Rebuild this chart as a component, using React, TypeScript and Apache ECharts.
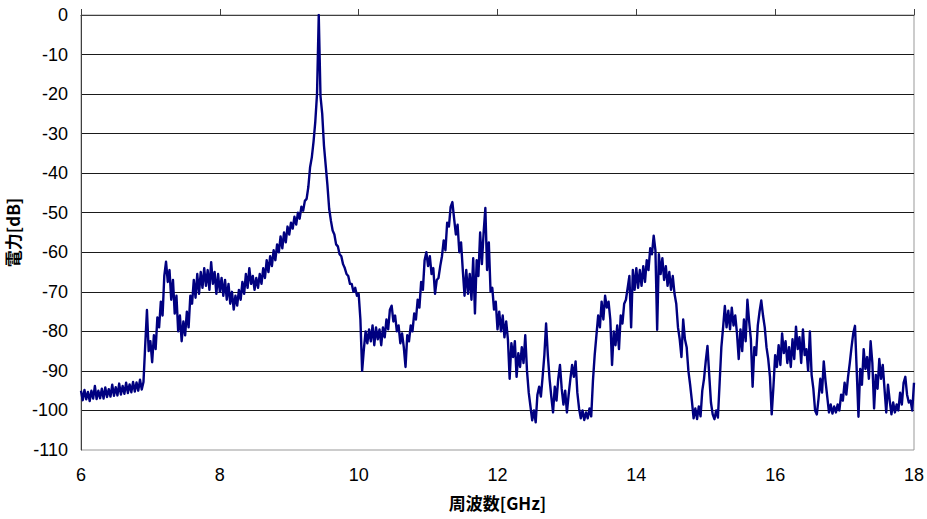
import React, { useEffect, useRef } from "react";
import * as echarts from "echarts";

// Spectrum trace: levels in dB sampled every 25 MHz, one array per GHz span.
const FREQ_START = 6; // GHz
const FREQ_STEP = 0.025; // GHz

const lv6 = [
  -95.0, -97.4, -94.8, -97.2, -95.3, -97.6, -95.0, -97.0, -93.8, -97.1,
  -95.0, -96.9, -94.5, -97.0, -94.2, -96.6, -94.6, -96.5, -93.5, -96.3,
  -94.1, -96.2, -93.2, -96.0, -93.8, -95.8, -93.0, -95.6, -93.4, -95.4,
  -92.8, -95.2, -92.9, -95.0, -92.2, -94.7, -92.8, -83.5, -74.6, -85.0,
];
const lv7 = [
  -82.5, -87.8, -81.0, -84.5, -76.5, -79.0, -72.5, -76.0, -66.0, -62.4,
  -67.5, -64.5, -72.0, -67.0, -75.5, -71.0, -80.0, -76.0, -82.5, -77.5,
  -81.0, -75.0, -79.0, -71.0, -73.0, -67.0, -71.5, -65.5, -70.5, -65.0,
  -69.0, -64.0, -68.5, -64.5, -69.5, -62.5, -68.0, -65.0, -70.5, -65.5,
];
const lv8 = [
  -70.0, -66.5, -71.0, -67.0, -72.0, -68.0, -73.0, -70.0, -74.5, -71.0,
  -73.5, -69.5, -72.0, -67.5, -70.5, -65.5, -69.0, -64.0, -68.0, -66.0,
  -69.5, -66.5, -69.0, -65.5, -68.0, -64.0, -66.5, -62.0, -65.0, -61.0,
  -63.5, -59.5, -62.0, -58.0, -60.0, -56.0, -59.0, -55.0, -57.5, -53.5,
];
const lv9 = [
  -55.5, -52.5, -54.0, -51.0, -53.0, -50.0, -51.5, -48.5, -49.5, -47.0,
  -46.5, -43.5, -38.5, -36.0, -32.0, -27.0, -20.0, 0.0, -20.5, -25.0,
  -33.0, -38.0, -43.0, -49.0, -52.0, -54.5, -55.5, -58.0, -58.5, -60.5,
  -61.0, -63.0, -64.0, -65.5, -66.0, -68.0, -68.0, -70.0, -69.0, -71.0,
];
const lv10 = [
  -70.5, -77.0, -90.0, -84.5, -80.0, -83.0, -79.5, -82.5, -78.5, -83.5,
  -79.0, -82.0, -79.5, -83.5, -79.0, -81.5, -77.0, -79.5, -74.5, -73.5,
  -77.5, -76.0, -80.0, -78.5, -83.0, -80.5, -84.0, -89.0, -81.0, -82.5,
  -78.5, -80.0, -75.5, -77.0, -72.0, -74.0, -67.5, -69.5, -62.0, -60.0,
];
const lv11 = [
  -63.5, -61.0, -65.5, -64.0, -70.5, -67.0, -66.5, -63.5, -61.0, -57.0,
  -59.5, -52.5, -53.5, -48.5, -47.3, -51.5, -55.5, -53.0, -60.0, -57.5,
  -64.5, -71.0, -64.5, -70.5, -65.5, -72.0, -61.5, -75.5, -62.0, -66.0,
  -55.0, -63.0, -55.0, -48.8, -64.5, -57.5, -70.0, -69.0, -74.5, -72.5,
];
const lv12 = [
  -79.5, -75.0, -80.0, -76.0, -81.5, -77.5, -82.0, -92.0, -83.0, -86.5,
  -82.5, -91.5, -85.5, -89.0, -84.0, -88.0, -81.0, -90.0, -95.5, -99.0,
  -102.5, -100.0, -103.0, -96.0, -94.0, -96.5, -91.5, -86.0, -78.0, -86.0,
  -92.0, -96.5, -100.5, -94.0, -97.5, -92.0, -88.5, -94.5, -98.5, -95.0,
];
const lv13 = [
  -100.5, -96.0, -92.0, -88.5, -91.5, -87.6, -95.5, -99.5, -102.0, -100.0,
  -102.4, -100.5, -102.0, -99.5, -101.5, -92.5, -86.0, -81.0, -76.0, -79.0,
  -72.5, -77.0, -71.0, -74.0, -72.5, -77.0, -88.5, -80.0, -83.5, -78.5,
  -84.5, -76.0, -78.0, -73.0, -72.0, -69.0, -66.0, -79.0, -64.5, -69.5,
];
const lv14 = [
  -64.0, -69.0, -64.5, -68.5, -63.5, -67.5, -62.0, -64.5, -59.0, -60.5,
  -55.8, -59.5, -79.6, -60.5, -65.5, -61.5, -67.0, -63.5, -68.5, -65.0,
  -69.5, -66.0, -70.5, -73.0, -79.0, -82.0, -86.5, -77.0, -82.0, -84.0,
  -90.0, -93.5, -97.5, -102.0, -99.5, -102.2, -99.0, -101.5, -95.0, -92.0,
];
const lv15 = [
  -87.5, -83.7, -91.0, -98.0, -101.0, -102.2, -100.0, -101.8, -93.0, -84.0,
  -79.0, -73.6, -79.0, -74.8, -79.5, -74.0, -78.5, -76.0, -80.5, -87.0,
  -79.5, -85.0, -77.0, -82.5, -72.0, -77.5, -82.0, -94.0, -84.0, -86.0,
  -78.5, -75.0, -72.2, -76.0, -79.0, -84.0, -87.0, -91.5, -101.0, -94.0,
];
const lv16 = [
  -86.0, -89.0, -83.5, -88.5, -80.5, -85.5, -82.5, -88.0, -84.0, -89.0,
  -82.0, -87.0, -78.8, -84.5, -81.5, -88.0, -79.5, -86.0, -84.5, -90.0,
  -80.0, -91.0, -94.5, -100.0, -101.0, -97.0, -92.0, -95.5, -87.6, -92.5,
  -96.5, -100.5, -98.5, -100.8, -99.0, -100.5, -98.5, -100.0, -96.0, -97.5,
];
const lv17 = [
  -93.0, -96.0, -91.5, -88.0, -84.0, -80.5, -78.6, -90.0, -101.6, -89.5,
  -93.5, -84.5, -89.5, -86.5, -92.0, -82.5, -88.0, -99.5, -91.0, -94.5,
  -87.0, -92.0, -88.5, -94.5, -100.5, -93.5, -97.5, -101.0, -98.0, -100.5,
  -98.5, -100.0, -95.5, -98.5, -93.0, -91.5, -96.0, -98.0, -97.5, -100.0,
  -93.0,
];

const LEVELS = [
  ...lv6, ...lv7, ...lv8, ...lv9, ...lv10, ...lv11,
  ...lv12, ...lv13, ...lv14, ...lv15, ...lv16, ...lv17,
];

const X_MIN = 6;
const X_MAX = 18;
const X_STEP = 2;
const Y_MIN = -110;
const Y_MAX = 0;
const Y_STEP = 10;

const X_TITLE = "周波数[GHz]";
const Y_TITLE = "電力[dB]";

const TICK_FONT = "'Liberation Sans', Arial, sans-serif";
const TITLE_FONT = "'Noto Sans CJK JP', 'Noto Sans CJK SC', sans-serif";

export default function App() {
  const ref = useRef<HTMLDivElement>(null);

  useEffect(() => {
    if (!ref.current) return;
    const chart = echarts.init(ref.current, undefined, { renderer: "svg" });

    const trace = LEVELS.map((v, i) => [
      Number((FREQ_START + i * FREQ_STEP).toFixed(3)),
      v,
    ]);

    chart.setOption({
      animation: false,
      backgroundColor: "#ffffff",
      grid: {
        left: 81,
        right: 13,
        top: 15,
        bottom: 69,
        outerBoundsMode: "none",
        containLabel: false,
        show: true,
        borderColor: "#999999",
        borderWidth: 1,
        backgroundColor: "transparent",
      },
      xAxis: {
        type: "value",
        min: X_MIN,
        max: X_MAX,
        interval: X_STEP,
        name: X_TITLE,
        nameLocation: "middle",
        nameGap: 44,
        nameTextStyle: {
          fontFamily: TITLE_FONT,
          fontSize: 17,
          fontWeight: "bold",
          color: "#000000",
        },
        axisLine: { show: true, lineStyle: { color: "#404040", width: 1 } },
        axisTick: {
          show: true,
          inside: true,
          length: 6,
          lineStyle: { color: "#404040" },
        },
        axisLabel: {
          fontFamily: TICK_FONT,
          fontSize: 18,
          color: "#000000",
          margin: 16,
        },
        splitLine: { show: false },
      },
      yAxis: {
        type: "value",
        min: Y_MIN,
        max: Y_MAX,
        interval: Y_STEP,
        name: Y_TITLE,
        nameLocation: "middle",
        nameGap: 58,
        nameRotate: 90,
        nameTextStyle: {
          fontFamily: TITLE_FONT,
          fontSize: 17,
          fontWeight: "bold",
          color: "#000000",
        },
        axisLine: { show: true, lineStyle: { color: "#404040", width: 1 } },
        axisTick: { show: false },
        axisLabel: {
          fontFamily: TICK_FONT,
          fontSize: 18,
          color: "#000000",
          margin: 13,
        },
        splitLine: {
          show: true,
          showMinLine: false,
          showMaxLine: false,
          lineStyle: { color: "#1a1a1a", width: 1 },
        },
      },
      series: [
        {
          type: "line",
          data: trace,
          showSymbol: false,
          symbol: "none",
          lineStyle: { color: "#000080", width: 2.4, join: "round" },
          z: 3,
        },
      ],
    });

    return () => {
      chart.dispose();
    };
  }, []);

  return (
    <div
      ref={ref}
      style={{
        position: "fixed",
        left: 0,
        top: 0,
        width: 927,
        height: 519,
        background: "#ffffff",
      }}
    />
  );
}
